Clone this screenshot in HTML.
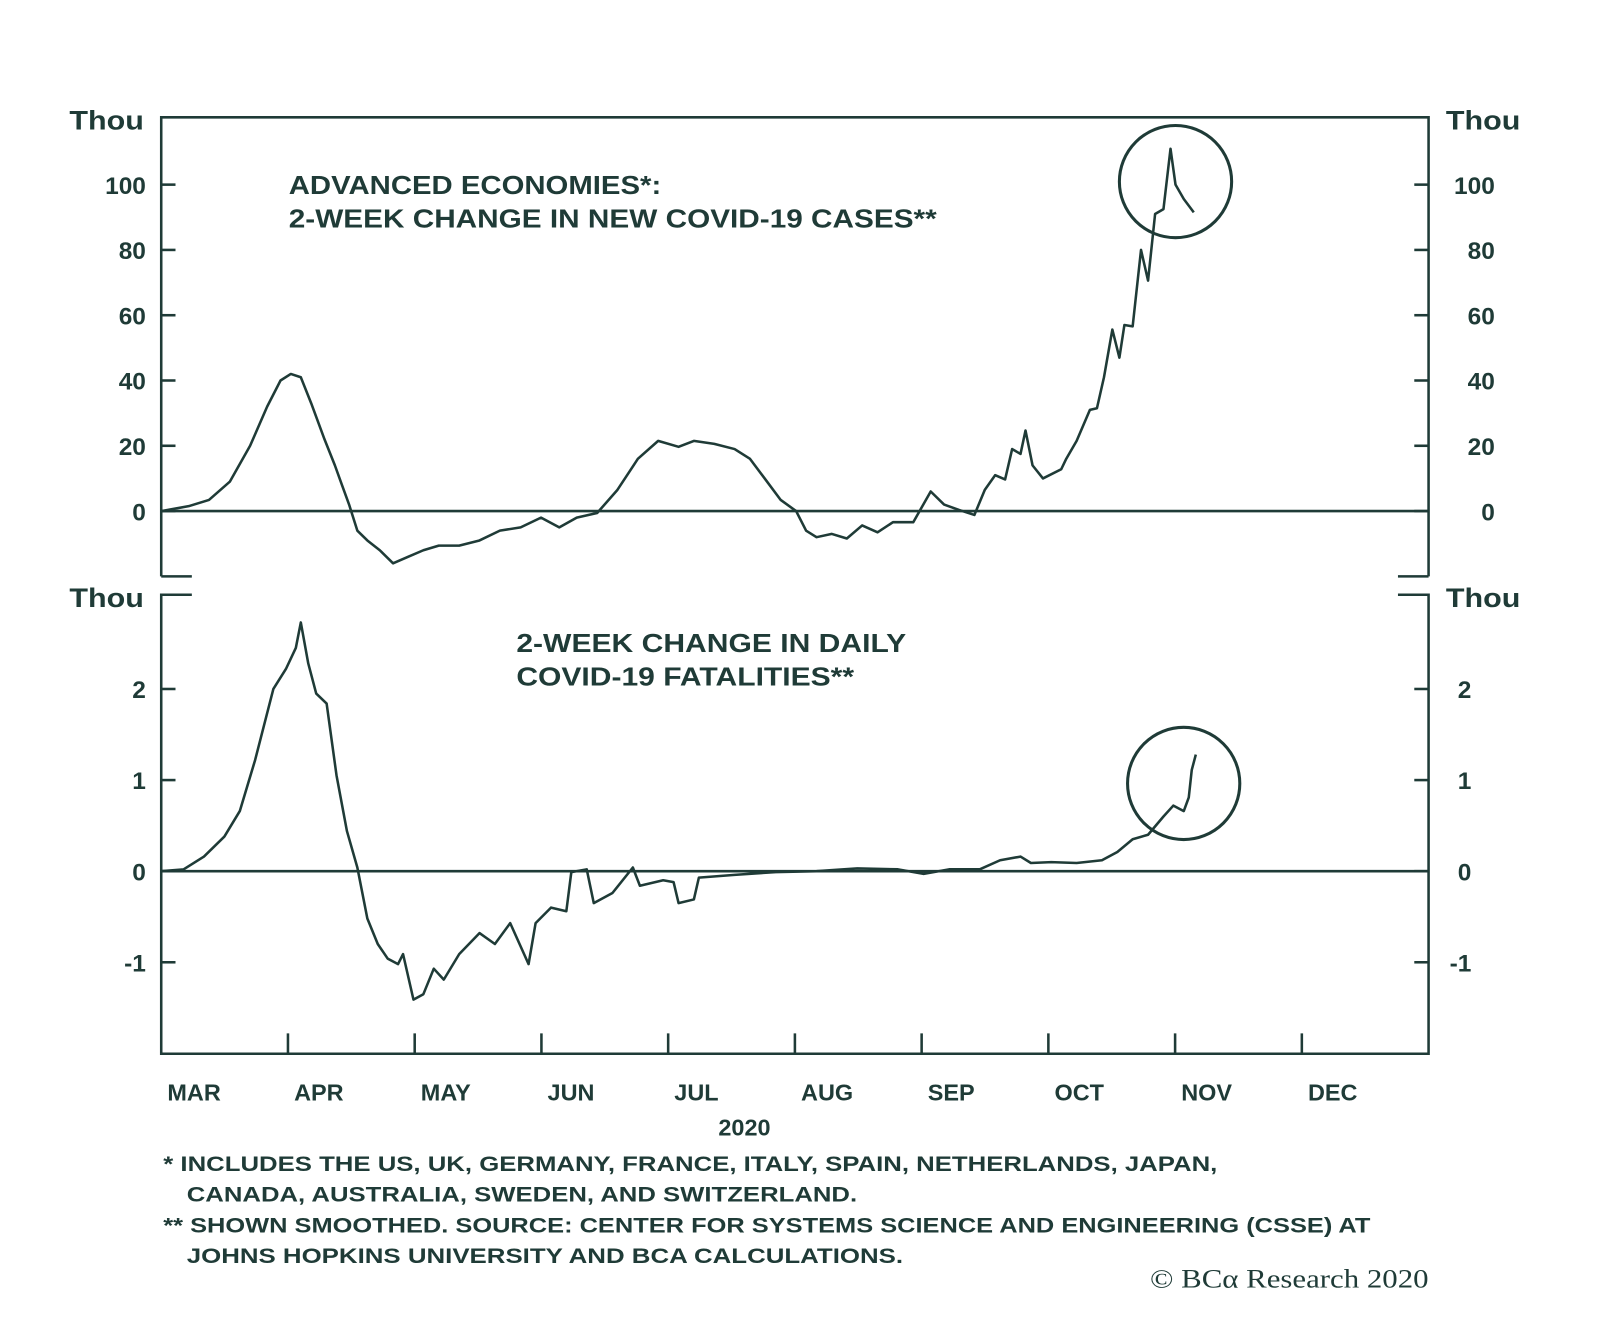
<!DOCTYPE html>
<html><head><meta charset="utf-8"><style>
html,body{margin:0;padding:0;background:#fff;}
svg{display:block}
text{font-family:"Liberation Sans",sans-serif;fill:#1f3b37;font-weight:bold}
</style></head><body>
<svg id="chart" width="1600" height="1319" viewBox="0 0 1568 1293" preserveAspectRatio="none" xmlns="http://www.w3.org/2000/svg">
<g id="frame" stroke="#1f3b37" stroke-width="2.5" fill="none"></g>
<g id="marks"></g>
<g id="labels"></g>
</svg>
<script>
// ---- data (days from Mar 1, values in thousands) ----
const caseDays=[0,6.6,11.5,16.5,21.4,25.5,28.7,31.2,33.6,36.1,39.3,41.8,43.5,45.2,47.2,49.6,52.6,55.8,59.4,63.1,66.8,71.7,76.6,81.5,86.5,91.4,95.8,100,104.9,109.8,114.7,119.6,124.5,128.2,133.1,138,141.7,145.4,149.1,152.8,155.2,157.7,161.4,165,168.7,172.4,176.1,181,185.2,188.4,192.1,195.7,198.2,200.7,203.1,204.8,206.8,208,209.7,212.2,216.6,217.8,220.3,223.5,225.2,226.9,228.9,230.6,231.8,233.8,235.8,237.5,239.2,241.2,242.9,244.1,246.1,248.5];
const caseVals=[0,1.5,3.4,9,20,32,40,42,41,33,22,14,8,2,-6,-9,-12,-16,-14,-12,-10.6,-10.6,-9,-6,-5,-2,-5,-2,-0.6,6.5,16,21.5,19.7,21.5,20.6,19,16,9.7,3.4,0,-6,-8,-7,-8.4,-4.4,-6.5,-3.4,-3.4,6,2,0.3,-1.2,6.5,11,9.7,19,17.5,24.7,14,10,12.8,16,21.5,31,31.5,41,55.6,47,57,56.6,80,70.6,91,92.5,111,100,95.6,91.5];
const deathDays=[0,5.4,10.3,15.2,18.9,22.6,27,30,32.4,33.6,35.4,37.3,39.8,42.2,44.7,47.2,49.6,52.1,54.5,57,58.2,60.7,63.1,65.6,68,71.7,76.6,80.3,84,88.4,90.1,93.8,97.5,98.7,102.4,104.1,108.6,113.5,115.2,120.8,123.3,124.5,128.2,129.4,138,147.9,157.7,167.5,177.3,183.5,189.6,197,201.9,206.8,209.3,214.2,220.3,226.4,230.1,233.8,237.5,241.2,243.6,246.1,247.3,248,249];
const deathVals=[0,0.02,0.16,0.38,0.66,1.22,2.0,2.22,2.45,2.73,2.28,1.95,1.84,1.05,0.44,0.04,-0.52,-0.8,-0.96,-1.02,-0.91,-1.41,-1.35,-1.07,-1.19,-0.91,-0.68,-0.8,-0.57,-1.02,-0.57,-0.4,-0.44,-0.01,0.02,-0.35,-0.24,0.04,-0.16,-0.1,-0.12,-0.35,-0.31,-0.07,-0.04,-0.01,0,0.03,0.02,-0.03,0.02,0.02,0.12,0.16,0.09,0.1,0.09,0.12,0.21,0.35,0.4,0.6,0.72,0.66,0.81,1.11,1.28];
const months=["MAR","APR","MAY","JUN","JUL","AUG","SEP","OCT","NOV","DEC"];
const caseTicks=[0,20,40,60,80,100];
const deathTicks=[-1,0,1,2];

const NS="http://www.w3.org/2000/svg";
const L=158,R=1400;
const xDay=d=>L+d*4.072;
const yCase=v=>501-v*3.2;
const yDeath=v=>854-v*89.3;
function el(tag,attrs,parent,txt){const e=document.createElementNS(NS,tag);for(const k in attrs)e.setAttribute(k,attrs[k]);if(txt!==undefined)e.textContent=txt;parent.appendChild(e);return e;}
const frame=document.getElementById('frame'),marks=document.getElementById('marks'),labels=document.getElementById('labels');
const C="#1f3b37";
let p=el('path',{d:`M${L},565 V115 H${R} V565 M${L},565 H188 M${R},565 H1370`},frame);


p=el('path',{d:`M188,583 H${L} V1033 H${R} V583 H1370`},frame);


p=el('line',{x1:L,x2:R,y1:yCase(0),y2:yCase(0)},frame);


p=el('line',{x1:L,x2:R,y1:yDeath(0),y2:yDeath(0)},frame);


caseTicks.forEach(v=>{const y=yCase(v);
 el('line',{x1:L,x2:L+14,y1:y,y2:y},frame);el('line',{x1:R-14,x2:R,y1:y,y2:y},frame);
 let t=el('text',{x:143,y:y+9,'text-anchor':'end','font-size':24},labels,String(v));
 
 
 t=el('text',{x:1465,y:y+9,'text-anchor':'end','font-size':24},labels,String(v));
 
 
});
deathTicks.forEach(v=>{const y=yDeath(v);
 el('line',{x1:L,x2:L+14,y1:y,y2:y},frame);el('line',{x1:R-14,x2:R,y1:y,y2:y},frame);
 let t=el('text',{x:143,y:y+9,'text-anchor':'end','font-size':24},labels,String(v));
 
 
 t=el('text',{x:1442,y:y+9,'text-anchor':'end','font-size':24},labels,String(v));
 
 
});
months.forEach((m,i)=>{const x=L+i*124.2;
 if(i>0)el('line',{x1:x,x2:x,y1:1013,y2:1033},frame);
 const t=el('text',{x:x+6,y:1079,'font-size':23},labels,m);
 
 
});
const line=(days,vals,fy)=>days.map((d,i)=>(i?'L':'M')+xDay(d).toFixed(1)+','+fy(vals[i]).toFixed(1)).join(' ');
p=el('path',{d:line(caseDays,caseVals,yCase),fill:'none',stroke:C,'stroke-width':2.5,'stroke-linejoin':'round'},marks);


p=el('path',{d:line(deathDays,deathVals,yDeath),fill:'none',stroke:C,'stroke-width':2.5,'stroke-linejoin':'round'},marks);


p=el('circle',{cx:1152,cy:178,r:55,fill:'none',stroke:C,'stroke-width':3},marks);


p=el('circle',{cx:1160,cy:768,r:55,fill:'none',stroke:C,'stroke-width':3},marks);


</script>
<script>
(function(){
const labels=document.getElementById('labels');const NS="http://www.w3.org/2000/svg";
const items=[
 ['y-unit-left-top',68,127,26,'Thou',73],['y-unit-right-top',1417,127,26,'Thou',73],
 ['y-unit-left-bottom',68,595,26,'Thou',73],['y-unit-right-bottom',1417,595,26,'Thou',73],
 ['cases-title-line1',283,190,25,'ADVANCED ECONOMIES*:',365],
 ['cases-title-line2',283,223,25,'2-WEEK CHANGE IN NEW COVID-19 CASES**',635],
 ['deaths-title-line1',506,639,25,'2-WEEK CHANGE IN DAILY',382],
 ['deaths-title-line2',506,672,25,'COVID-19 FATALITIES**',331],
 ['x-year-label',704,1113,23,'2020',0],
 ['footnote-1a',160,1148,21,'* INCLUDES THE US, UK, GERMANY, FRANCE, ITALY, SPAIN, NETHERLANDS, JAPAN,',1033],
 ['footnote-1b',183,1178,21,'CANADA, AUSTRALIA, SWEDEN, AND SWITZERLAND.',657],
 ['footnote-2a',160,1208,21,'** SHOWN SMOOTHED. SOURCE: CENTER FOR SYSTEMS SCIENCE AND ENGINEERING (CSSE) AT',1183],
 ['footnote-2b',183,1238,21,'JOHNS HOPKINS UNIVERSITY AND BCA CALCULATIONS.',702]
];
items.forEach(a=>{const t=document.createElementNS(NS,'text');t.setAttribute('x',a[1]);t.setAttribute('y',a[2]);t.setAttribute('font-size',a[3]);t.textContent=a[4];
if(a[5]){t.setAttribute('textLength',a[5]);t.setAttribute('lengthAdjust','spacingAndGlyphs');}


labels.appendChild(t);});
const c=document.createElementNS(NS,'text');c.setAttribute('x',1127);c.setAttribute('y',1262);c.setAttribute('font-size',26);
c.setAttribute('textLength',273);c.setAttribute('lengthAdjust','spacingAndGlyphs');
c.setAttribute('style','font-family:"Liberation Serif",serif;font-weight:normal');c.textContent='© BCα Research 2020';


labels.appendChild(c);
})();
</script>
</body></html>
